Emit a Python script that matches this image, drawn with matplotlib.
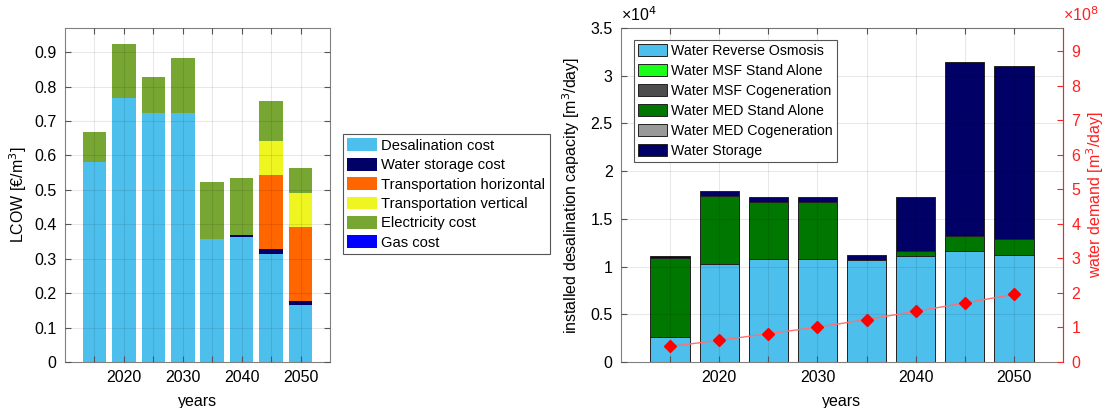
import numpy as np
import matplotlib
matplotlib.use("Agg")
import matplotlib.pyplot as plt
from matplotlib.ticker import FuncFormatter

plt.rcParams['font.family'] = ['Liberation Sans', 'DejaVu Sans']

# ---- data -------------------------------------------------------------
years = [2015, 2020, 2025, 2030, 2035, 2040, 2045, 2050]

# levelised cost of water components [EUR/m3]
lcow_desalination = [0.582, 0.768, 0.724, 0.724, 0.357, 0.364, 0.315, 0.166]
lcow_storage      = [0.0, 0.0, 0.0, 0.0, 0.0, 0.004, 0.012, 0.010]
lcow_trans_h      = [0.0, 0.0, 0.0, 0.0, 0.0, 0.0, 0.215, 0.215]
lcow_trans_v      = [0.0, 0.0, 0.0, 0.0, 0.0, 0.0, 0.100, 0.101]
lcow_electricity  = [0.085, 0.156, 0.103, 0.158, 0.166, 0.165, 0.115, 0.071]
lcow_gas          = [0.0, 0.0, 0.0, 0.0, 0.0, 0.0, 0.0, 0.0]
lcow_labels = ["Desalination cost", "Water storage cost", "Transportation horizontal",
               "Transportation vertical", "Electricity cost", "Gas cost"]

# installed capacities [m3/day]
cap_ro      = [2580, 10300, 10750, 10750, 10730, 11080, 11610, 11260]
cap_msf_sa  = [0, 0, 0, 0, 0, 0, 0, 0]
cap_msf_cg  = [0, 0, 0, 0, 0, 0, 0, 0]
cap_med_sa  = [8280, 7140, 5990, 5990, 0, 600, 1570, 1640]
cap_med_cg  = [0, 0, 0, 0, 0, 0, 0, 0]
cap_storage = [240, 520, 520, 520, 530, 5590, 18250, 18150]
cap_labels = ["Water Reverse Osmosis", "Water MSF Stand Alone", "Water MSF Cogeneration",
              "Water MED Stand Alone", "Water MED Cogeneration", "Water Storage"]

# water demand [m3/day]
demand = [0.45e8, 0.63e8, 0.82e8, 1.01e8, 1.23e8, 1.47e8, 1.71e8, 1.96e8]

# ---- styling ----------------------------------------------------------
lcow_colors = ["#4dbfed", "#000066", "#ff6600", "#eef520", "#77a633", "#0000ff"]
cap_colors = ["#4dbfed", "#19ff19", "#4d4d4d", "#007700", "#999999", "#000066"]
box_c = "#808080"
fs = 11.5

fig = plt.figure(figsize=(11.04, 4.08), dpi=100)
W, H = 1104, 408

def style_axes(ax):
    ax.set_xlim(2010, 2055)
    ax.set_xticks(years)
    ax.set_xticklabels([str(y) if y % 10 == 0 else "" for y in years])
    # grid drawn over the bars, faint enough to just show through
    ax.set_axisbelow(False)
    ax.grid(True, color="black", alpha=0.09, lw=0.8)
    for s in ax.spines.values():
        s.set_color(box_c)
    ax.tick_params(direction="in", length=4, color="#555555", labelsize=fs,
                   top=True, pad=6)

def style_legend(leg):
    leg.get_frame().set_edgecolor("#555555")
    leg.get_frame().set_linewidth(0.8)
    leg.set_zorder(5)

def leg_kw(size, spacing):
    return dict(loc="upper left", bbox_transform=fig.transFigure, frameon=True,
                fancybox=False, fontsize=size, handlelength=2.0, handleheight=0.95,
                handletextpad=0.3, labelspacing=spacing, borderpad=0.3,
                borderaxespad=0, framealpha=1)

# ---- left: LCOW -------------------------------------------------------
ax1 = fig.add_axes([65 / W, 46 / H, 265 / W, 334 / H])
bottom = np.zeros(len(years))
for vals, col, lab in zip([lcow_desalination, lcow_storage, lcow_trans_h, lcow_trans_v,
                           lcow_electricity, lcow_gas], lcow_colors, lcow_labels):
    ax1.bar(years, vals, width=4, bottom=bottom, color=col, label=lab, linewidth=0)
    bottom += np.array(vals)
style_axes(ax1)
ax1.tick_params(right=True)
ax1.set_ylim(0, 0.97)
ax1.set_yticks(np.arange(0, 0.91, 0.1))
ax1.set_yticklabels(["0"] + [f"{v:.1f}" for v in np.arange(0.1, 0.91, 0.1)])
ax1.set_ylabel("LCOW [€/m$^3$]", fontsize=fs, labelpad=4)
ax1.set_xlabel("years", fontsize=fs, labelpad=6)
style_legend(ax1.legend(bbox_to_anchor=(343 / W, 1 - 134 / H), **leg_kw(10.6, 0.34)))

# ---- right: capacities + demand ---------------------------------------
ax2 = fig.add_axes([621 / W, 46 / H, 442 / W, 334 / H])
bottom = np.zeros(len(years))
for vals, col, lab in zip([cap_ro, cap_msf_sa, cap_msf_cg, cap_med_sa, cap_med_cg,
                           cap_storage], cap_colors, cap_labels):
    ax2.bar(years, vals, width=4, bottom=bottom, color=col, label=lab,
            edgecolor="#222222", linewidth=0.7)
    bottom += np.array(vals)
style_axes(ax2)
ax2.set_ylim(0, 3.5e4)
ax2.set_yticks(np.arange(0, 3.51e4, 0.5e4))
ax2.yaxis.set_major_formatter(FuncFormatter(lambda v, p: "0" if v == 0 else f"{v / 1e4:g}"))
ax2.set_ylabel("installed desalination capacity [m$^3$/day]", fontsize=fs, labelpad=6)
ax2.set_xlabel("years", fontsize=fs, labelpad=6)
ax2.text(0.0, 1.012, "×10$^4$", transform=ax2.transAxes, fontsize=fs, ha="left", va="bottom")

red = "#ff2020"
ax3 = ax2.twinx()
ax3.plot(years, demand, color="#ff7070", lw=1.0, marker="D", markersize=6,
         markerfacecolor="#ff0000", markeredgecolor="#ff0000")
ax3.set_ylim(0, 9.68e8)
ax3.set_yticks(np.arange(0, 9.1e8, 1e8))
ax3.yaxis.set_major_formatter(FuncFormatter(lambda v, p: f"{v / 1e8:g}"))
ax3.tick_params(axis="y", direction="in", length=4, colors=red, labelsize=fs, pad=6)
ax3.spines["right"].set_color(red)
for s in ("left", "top", "bottom"):
    ax3.spines[s].set_visible(False)
ax3.set_ylabel("water demand [m$^3$/day]", color=red, fontsize=fs, labelpad=3)
ax3.text(1.0, 1.012, "×10$^8$", transform=ax3.transAxes, fontsize=fs, ha="left",
         va="bottom", color=red)

# legend of the capacity bars sits above the demand line
leg2 = ax3.legend(*ax2.get_legend_handles_labels(),
                  bbox_to_anchor=(634 / W, 1 - 40 / H), **leg_kw(10.2, 0.42))
style_legend(leg2)

fig.savefig("out.png", dpi=100)
